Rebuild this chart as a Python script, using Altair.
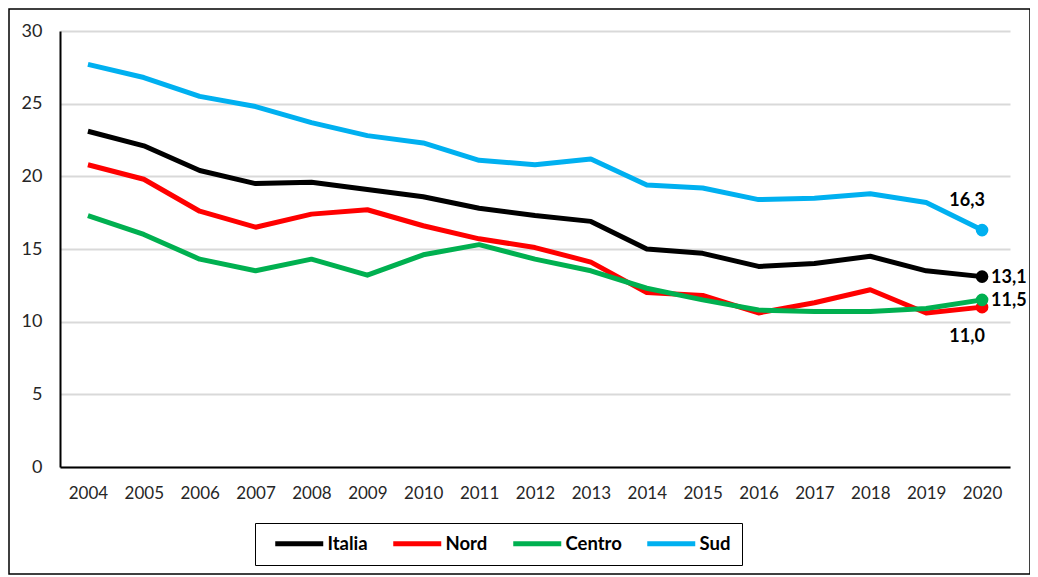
import altair as alt
import pandas as pd

years = list(range(2004, 2021))
series = ["Italia", "Nord", "Centro", "Sud"]
colors = ["#000000", "#FF0000", "#00B050", "#00B0F0"]

italia = [23.1, 22.1, 20.4, 19.5, 19.6, 19.1, 18.6, 17.8, 17.3, 16.9, 15.0, 14.7, 13.8, 14.0, 14.5, 13.5, 13.1]
nord   = [20.8, 19.8, 17.6, 16.5, 17.4, 17.7, 16.6, 15.7, 15.1, 14.1, 12.0, 11.8, 10.6, 11.3, 12.2, 10.6, 11.0]
centro = [17.3, 16.0, 14.3, 13.5, 14.3, 13.2, 14.6, 15.3, 14.3, 13.5, 12.3, 11.5, 10.8, 10.7, 10.7, 10.9, 11.5]
sud    = [27.7, 26.8, 25.5, 24.8, 23.7, 22.8, 22.3, 21.1, 20.8, 21.2, 19.4, 19.2, 18.4, 18.5, 18.8, 18.2, 16.3]

rows = []
for name, vals in zip(series, [italia, nord, centro, sud]):
    for y, v in zip(years, vals):
        rows.append({"anno": str(y), "serie": name, "valore": v})
df = pd.DataFrame(rows)

FONT = "Lato"
W, H = 950, 436

color = alt.Color(
    "serie:N",
    scale=alt.Scale(domain=series, range=colors),
    sort=series,
    legend=alt.Legend(
        orient="none", legendX=195, legendY=492, direction="horizontal", columns=4,
        title=None, symbolType="M0,0H8", symbolStrokeWidth=5, symbolSize=144,
        labelFont=FONT, labelFontSize=18.5, labelFontWeight="bold", labelColor="#000000",
        labelOffset=43, columnPadding=15, padding=11, strokeColor="#000000",
    ),
)

x = alt.X(
    "anno:O", title=None,
    scale=alt.Scale(type="point", padding=0.5),
    axis=alt.Axis(labelAngle=0, ticks=False, tickSize=0, labelPadding=18,
                  domainColor="#000000", domainWidth=2, labelFont=FONT,
                  labelFontSize=17, labelColor="#262626", grid=False),
)
y = alt.Y(
    "valore:Q", title=None,
    scale=alt.Scale(domain=[0, 30], nice=False),
    axis=alt.Axis(values=[0, 5, 10, 15, 20, 25, 30], ticks=False, tickSize=0,
                  labelPadding=18, domainColor="#000000", domainWidth=2,
                  gridColor="#d9d9d9", gridWidth=2, labelFont=FONT,
                  labelFontSize=18, labelColor="#262626"),
)

base = alt.Chart(df)

lines = base.mark_line(strokeWidth=5, strokeJoin="round").encode(
    x=x, y=y, color=color, order=alt.Order("anno:O")
)

last = base.transform_filter(alt.datum.anno == "2020")
points = last.mark_point(filled=True, size=160, opacity=1).encode(
    x="anno:O", y="valore:Q",
    color=alt.Color("serie:N", scale=alt.Scale(domain=series, range=colors), legend=None),
)

def lab(name, **kw):
    return (
        last.transform_filter(alt.datum.serie == name)
        .transform_calculate(txt="replace(format(datum.valore, '.1f'), '.', ',')")
        .mark_text(font=FONT, fontSize=18, fontWeight="bold", color="#000000", **kw)
        .encode(x="anno:O", y="valore:Q", text="txt:N")
    )

labels = [
    lab("Sud", dx=-15, dy=-29, align="center"),
    lab("Italia", dx=9, dy=1, align="left"),
    lab("Centro", dx=9, dy=1, align="left"),
    lab("Nord", dx=-15, dy=30, align="center"),
]

frame_df = pd.DataFrame({"k": [0]})
frame = alt.Chart(frame_df).mark_rect(fill=None, stroke="#000000", strokeWidth=1.5).encode(
    x=alt.value(-51), x2=alt.value(970), y=alt.value(-22), y2=alt.value(543)
)

chart = alt.layer(frame, lines, points, *labels).properties(
    width=W, height=H,
    padding={"left": 52, "top": 23, "right": 20, "bottom": 108},
    autosize=alt.AutoSizeParams(type="none"),
    background="white",
).configure_view(stroke=None)

chart.save("out.html", embed_options={"renderer": "svg", "actions": False})
